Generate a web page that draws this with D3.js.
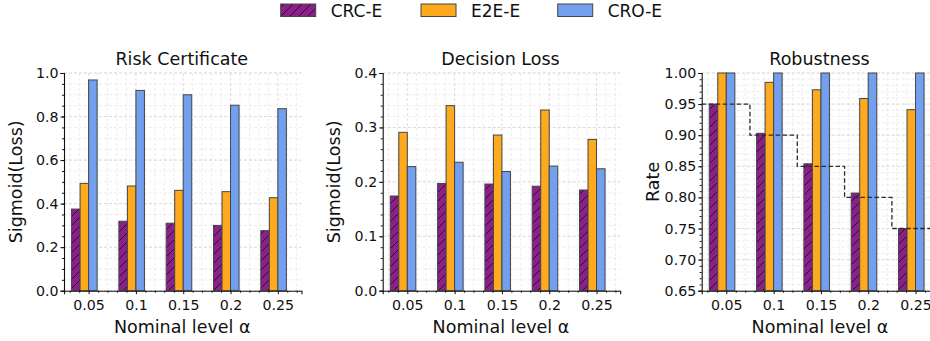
<!DOCTYPE html>
<html>
<head>
<meta charset="utf-8">
<script src="https://cdn.jsdelivr.net/npm/d3@7"></script>
<style>
  body { margin: 0; background: #fff; }
  svg { font-family: "DejaVu Sans", sans-serif; display: block; }
</style>
</head>
<body>
<div id="chart"></div>
<script>
// data
const alphaLabels = ['0.05', '0.1', '0.15', '0.2', '0.25'];
const seriesNames = ['CRC-E', 'E2E-E', 'CRO-E'];

const riskCRC = [0.375, 0.319, 0.310, 0.300, 0.276];
const riskE2E = [0.493, 0.481, 0.461, 0.455, 0.427];
const riskCRO = [0.968, 0.920, 0.900, 0.852, 0.836];

const lossCRC = [0.174, 0.197, 0.196, 0.192, 0.185];
const lossE2E = [0.291, 0.340, 0.286, 0.332, 0.278];
const lossCRO = [0.228, 0.236, 0.219, 0.229, 0.224];

const robCRC = [0.950, 0.903, 0.854, 0.807, 0.750];
const robE2E = [1.000, 0.985, 0.973, 0.959, 0.941];
const robCRO = [1.000, 1.000, 1.000, 1.000, 1.000];

const targetRate = [0.95, 0.90, 0.85, 0.80, 0.75]; // 1 - alpha

const panels = [
    { title: 'Risk Certificate', ylabel: 'Sigmoid(Loss)', series: [riskCRC, riskE2E, riskCRO],
      domain: [0, 1], major: 0.2, minor: 0.05, fmt: '.1f', left: 64 },
    { title: 'Decision Loss', ylabel: 'Sigmoid(Loss)', series: [lossCRC, lossE2E, lossCRO],
      domain: [0, 0.4], major: 0.1, minor: 0.02, fmt: '.1f', left: 382.7 },
    { title: 'Robustness', ylabel: 'Rate', series: [robCRC, robE2E, robCRO],
      domain: [0.65, 1.0], major: 0.05, minor: 0.01, fmt: '.2f', left: 701.7, target: targetRate }
];

const fills = ['#8c1f8c', '#fdaa1f', '#729fee'];
const edge = '#454545';

const width = 930, height = 341;
const plotW = 237.5, plotTop = 73, plotBottom = 290.7;
const barW = 0.18;

const svg = d3.select('#chart').append('svg')
    .attr('width', width)
    .attr('height', height);

// hatch for CRC-E
const defs = svg.append('defs');
const hatch = defs.append('pattern')
    .attr('id', 'hatch')
    .attr('patternUnits', 'userSpaceOnUse')
    .attr('width', 9)
    .attr('height', 9);
hatch.append('rect').attr('width', 9).attr('height', 9).attr('fill', fills[0]);
hatch.append('path')
    .attr('d', 'M-2,2 L2,-2 M0,9 L9,0 M7,11 L11,7')
    .attr('stroke', '#111')
    .attr('stroke-width', 0.85);

const fillFor = k => k === 0 ? 'url(#hatch)' : fills[k];

function range(a, b, step) {
    const out = [];
    const n = Math.round((b - a) / step);
    for (let i = 0; i <= n; i++) out.push(+(a + i * step).toFixed(6));
    return out;
}

panels.forEach(p => {
    const x = d3.scaleLinear().domain([-0.52, 4.5]).range([p.left, p.left + plotW]);
    const y = d3.scaleLinear().domain(p.domain).range([plotBottom, plotTop]);
    const g = svg.append('g');

    const xMajor = d3.range(alphaLabels.length);
    const xMinor = range(-0.4, 4.4, 0.2).filter(v => Math.abs(v - Math.round(v)) > 1e-6);
    const yMajor = range(p.domain[0], p.domain[1], p.major);
    const yMinor = range(p.domain[0], p.domain[1], p.minor);

    // grid (major + minor), faint dashed
    const grid = g.append('g').attr('stroke', '#d6d6d6').attr('stroke-width', 0.8)
        .attr('stroke-dasharray', '3,2');
    grid.selectAll('.gy').data(yMinor.concat(yMajor)).enter().append('line')
        .attr('x1', p.left).attr('x2', p.left + plotW)
        .attr('y1', d => y(d)).attr('y2', d => y(d))
        .attr('stroke-opacity', (d, i) => i < yMinor.length ? 0.55 : 1);
    grid.selectAll('.gx').data(xMinor.concat(xMajor)).enter().append('line')
        .attr('x1', d => x(d)).attr('x2', d => x(d))
        .attr('y1', plotTop).attr('y2', plotBottom)
        .attr('stroke-opacity', (d, i) => i < xMinor.length ? 0.55 : 1);

    // bars
    p.series.forEach((vals, k) => {
        g.selectAll('.bar' + k).data(vals).enter().append('rect')
            .attr('x', (d, i) => x(i + (k - 2) * barW))
            .attr('width', x(barW) - x(0))
            .attr('y', d => y(d))
            .attr('height', d => y(p.domain[0]) - y(d))
            .attr('fill', fillFor(k))
            .attr('stroke', edge)
            .attr('stroke-width', 1);
    });

    // target step line
    if (p.target) {
        const pts = [[-0.52, p.target[0]]];
        p.target.forEach((t, i) => { if (i > 0) pts.push([i - 0.5, t]); });
        pts.push([4.5, p.target[p.target.length - 1]]);
        g.append('path')
            .attr('d', d3.line().x(d => x(d[0])).y(d => y(d[1])).curve(d3.curveStepAfter)(pts))
            .attr('fill', 'none')
            .attr('stroke', '#2a2a2a')
            .attr('stroke-width', 1.3)
            .attr('stroke-dasharray', '4.5,2.5');
    }

    // axes
    const xAxis = g.append('g').attr('transform', `translate(0,${plotBottom})`);
    xAxis.call(d3.axisBottom(x).tickValues(xMinor).tickSize(2).tickFormat(''));
    xAxis.call(g2 => g2.select('.domain').remove());
    const xAxisMaj = g.append('g').attr('transform', `translate(0,${plotBottom})`)
        .call(d3.axisBottom(x).tickValues(xMajor).tickSize(3.5).tickPadding(6)
            .tickFormat(i => alphaLabels[i]));
    xAxisMaj.attr('font-family', '"DejaVu Sans", sans-serif').attr('font-size', 14.2);
    xAxisMaj.selectAll('text').attr('fill', '#111');

    const yAxis = g.append('g').attr('transform', `translate(${p.left},0)`);
    yAxis.call(d3.axisLeft(y).tickValues(yMinor).tickSize(2).tickFormat(''));
    yAxis.call(g2 => g2.select('.domain').remove());
    const yAxisMaj = g.append('g').attr('transform', `translate(${p.left},0)`)
        .call(d3.axisLeft(y).tickValues(yMajor).tickSize(3.5).tickPadding(2)
            .tickFormat(d3.format(p.fmt)));
    yAxisMaj.attr('font-family', '"DejaVu Sans", sans-serif').attr('font-size', 14.2);
    yAxisMaj.selectAll('text').attr('fill', '#111');

    g.selectAll('.domain').attr('stroke', '#111').attr('stroke-width', 1.1);
    g.selectAll('.tick line').attr('stroke', '#111');

    // titles and labels
    g.append('text')
        .attr('x', p.left + plotW / 2 - 1)
        .attr('y', 65)
        .attr('text-anchor', 'middle')
        .attr('font-size', 17.5)
        .attr('fill', '#111')
        .text(p.title);

    g.append('text')
        .attr('x', p.left + plotW / 2 - 0.5)
        .attr('y', 333)
        .attr('text-anchor', 'middle')
        .attr('font-size', 17.5)
        .attr('fill', '#111')
        .text('Nominal level α');

    g.append('text')
        .attr('transform', `translate(${p.left - 42.5},${(plotTop + plotBottom) / 2}) rotate(-90)`)
        .attr('text-anchor', 'middle')
        .attr('font-size', 17.5)
        .attr('fill', '#111')
        .text(p.ylabel);
});

// legend across the top
const legendX = [280.7, 421, 557.7];
const legend = svg.append('g');
seriesNames.forEach((name, k) => {
    legend.append('rect')
        .attr('x', legendX[k]).attr('y', 4)
        .attr('width', 35).attr('height', 12.5)
        .attr('fill', fillFor(k))
        .attr('stroke', edge)
        .attr('stroke-width', 1);
    legend.append('text')
        .attr('x', legendX[k] + 50).attr('y', 17.3)
        .attr('font-size', 17)
        .attr('fill', '#111')
        .text(name);
});
</script>
</body>
</html>
